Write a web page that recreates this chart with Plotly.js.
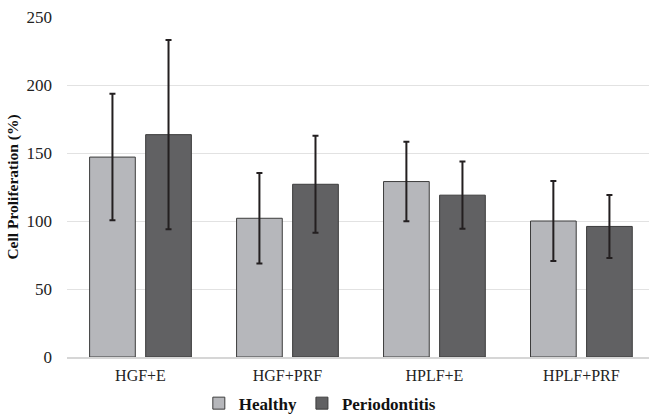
<!DOCTYPE html>
<html>
<head>
<meta charset="utf-8">
<script src="https://cdn.plot.ly/plotly-3.0.1.min.js"></script>
<style>html,body{margin:0;padding:0;background:#fff;}#chart{width:649px;height:418px;}</style>
</head>
<body>
<div id="chart"></div>
<script>
const categories = ["HGF+E", "HGF+PRF", "HPLF+E", "HPLF+PRF"];
const healthyValues = [147, 102, 129, 100];
const healthyErrors = [46.5, 33.3, 29.2, 29.4];
const periodontitisValues = [163.5, 127, 119, 96];
const periodontitisErrors = [69.6, 35.7, 24.7, 23.2];
const yTicks = [0, 50, 100, 150, 200, 250];

const serif = "Liberation Serif";
const errStyle = {type: "data", visible: true, color: "#231f20", thickness: 2, width: 3};

const traces = [
  {
    type: "bar", name: "Healthy", x: categories, y: healthyValues,
    marker: {color: "#b6b7bb", line: {color: "#3c3c3c", width: 1}},
    error_y: Object.assign({array: healthyErrors}, errStyle)
  },
  {
    type: "bar", name: "Periodontitis", x: categories, y: periodontitisValues,
    marker: {color: "#616163", line: {color: "#3c3c3c", width: 1}},
    error_y: Object.assign({array: periodontitisErrors}, errStyle)
  }
];

const layout = {
  width: 649, height: 418,
  margin: {l: 67, r: 0, t: 17, b: 61, autoexpand: false},
  paper_bgcolor: "#fff", plot_bgcolor: "#fff",
  barmode: "group", bargap: 0.237, bargroupgap: 0.185,
  font: {family: serif, size: 16, color: "#222"},
  xaxis: {
    type: "category", range: [-0.5, 3.46], automargin: false,
    showgrid: false, showline: true, linecolor: "#d6d6d6", linewidth: 2,
    ticks: "", ticklabelstandoff: 3,
    tickfont: {family: serif, size: 16, color: "#222"}
  },
  yaxis: {
    range: [0, 250], tickvals: yTicks, ticktext: yTicks.map(String), automargin: false,
    showgrid: true, gridcolor: "#e2e2e2", gridwidth: 1,
    zeroline: false, showline: false, ticks: "", ticklabelstandoff: 14,
    tickfont: {family: serif, size: 17, color: "#222"},
    title: {text: "<b>Cell Proliferation (%)</b>", font: {family: serif, size: 15.5, color: "#111"}, standoff: 4}
  },
  legend: {
    orientation: "h", x: 0.4344, xanchor: "center", y: -0.19, yanchor: "bottom",
    font: {family: serif, size: 17, color: "#111", weight: "bold"},
    itemwidth: 30, traceorder: "normal", borderwidth: 0, bgcolor: "rgba(0,0,0,0)"
  },
  showlegend: true
};

Plotly.newPlot("chart", traces, layout, {displayModeBar: false, staticPlot: true});
</script>
</body>
</html>
